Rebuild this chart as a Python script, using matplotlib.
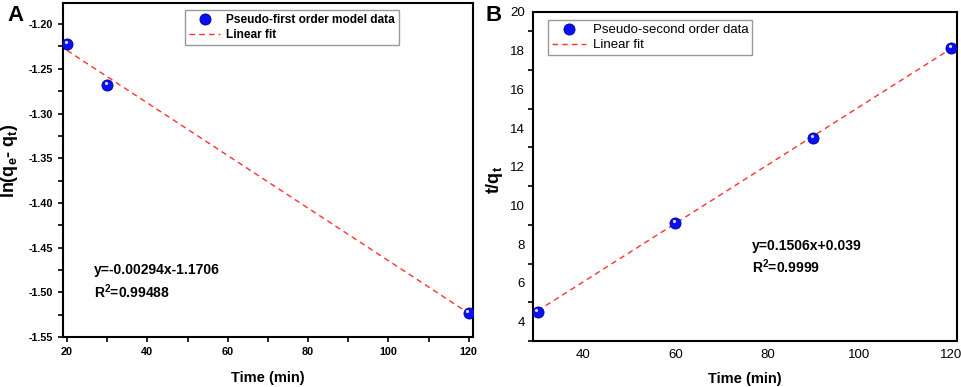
import numpy as np
import matplotlib
matplotlib.use("Agg")
import matplotlib.pyplot as plt
from matplotlib.ticker import MultipleLocator, FormatStrFormatter
import matplotlib.transforms as mtransforms

plt.rcParams['font.family'] = ['Liberation Sans', 'DejaVu Sans']
plt.rcParams['mathtext.fontset'] = 'custom'
plt.rcParams['mathtext.rm'] = 'Liberation Sans'
plt.rcParams['mathtext.it'] = 'Liberation Sans'
plt.rcParams['mathtext.bf'] = 'Liberation Sans:bold'

# Panel A: pseudo-first order
tA = [20, 30, 120]
lnA = [-1.222, -1.268, -1.523]
slopeA, interA = -0.00294, -1.1706

# Panel B: pseudo-second order
tB = [30, 60, 90, 120]
tqB = [4.50, 9.10, 13.50, 18.15]
slopeB, interB = 0.1506, 0.039

fig = plt.figure(figsize=(9.62, 3.87), dpi=100)
axA = fig.add_axes([0.0655, 0.129, 0.426, 0.863])
axB = fig.add_axes([0.554, 0.119, 0.441, 0.850])

def spheres(ax, x, y, label):
    ax.plot(x, y, 'o', ms=8, color='#0a10f0', mec='#0000a0', mew=0.6, label=label, zorder=3)
    off = mtransforms.offset_copy(ax.transData, fig=fig, x=-1.1, y=1.1, units='points')
    ax.plot(x, y, 'o', ms=2.3, color='white', mec='none', alpha=0.85, transform=off, zorder=4)

# ---- A ----
xa = np.array([tA[0], tA[-1]])
spheres(axA, tA, lnA, 'Pseudo-first order model data')
axA.plot(xa, slopeA * xa + interA, '--', color='#ff3030', lw=1.0, dashes=(4, 3), label='Linear fit', zorder=2)
axA.set_xlim(19, 121)
axA.set_ylim(-1.55, -1.1765)
axA.xaxis.set_major_locator(MultipleLocator(20))
axA.xaxis.set_minor_locator(MultipleLocator(10))
axA.yaxis.set_major_locator(MultipleLocator(0.05))
axA.yaxis.set_minor_locator(MultipleLocator(0.025))
axA.yaxis.set_major_formatter(FormatStrFormatter('%.2f'))
axA.tick_params(which='both', direction='out', length=3.5, width=1.2, labelsize=7.8)
for lab in axA.get_xticklabels() + axA.get_yticklabels():
    lab.set_fontweight('bold')
for s in axA.spines.values():
    s.set_linewidth(1.5)
axA.set_xlabel('Time (min)', fontsize=10.5, fontweight='bold', labelpad=10)
axA.set_ylabel(r'ln(q$_\mathbf{e}$- q$_\mathbf{t}$)', fontsize=13, fontweight='bold')
axA.yaxis.set_label_coords(-0.105, 0.527)
legA = axA.legend(loc='upper left', bbox_to_anchor=(0.298, 0.979), borderaxespad=0, frameon=True,
                  fancybox=False, edgecolor='#808080', prop={'weight': 'bold', 'size': 8.6},
                  handlelength=2.6, borderpad=0.35, labelspacing=0.25, handletextpad=0.5)
legA.get_frame().set_linewidth(1.0)
axA.text(0.075, 0.20, 'y=-0.00294x-1.1706', transform=axA.transAxes, fontsize=10, fontweight='bold', va='center')
axA.text(0.075, 0.135, r'R$^\mathbf{2}$=0.99488', transform=axA.transAxes, fontsize=10, fontweight='bold', va='center')
fig.text(0.008, 0.945, 'A', fontsize=16, fontweight='bold')

# ---- B ----
xb = np.array([tB[0], tB[-1]])
spheres(axB, tB, tqB, 'Pseudo-second order data')
axB.plot(xb, slopeB * xb + interB, '--', color='#ff3030', lw=1.0, dashes=(4, 3), label='Linear fit', zorder=2)
axB.set_xlim(29, 121.3)
axB.set_ylim(3, 20)
axB.xaxis.set_major_locator(MultipleLocator(20))
axB.yaxis.set_major_locator(MultipleLocator(2))
axB.yaxis.set_minor_locator(MultipleLocator(1))
axB.tick_params(which='major', length=0, labelsize=9.5, pad=6)
axB.tick_params(axis='y', which='minor', direction='out', length=3.5, width=1.2)
for s in axB.spines.values():
    s.set_linewidth(1.5)
axB.set_xlabel('Time (min)', fontsize=10.5, fontweight='bold', labelpad=8)
axB.set_ylabel(r'$\mathbf{t/q_t}$', fontsize=13)
axB.yaxis.set_label_coords(-0.066, 0.49)
legB = axB.legend(loc='upper left', bbox_to_anchor=(0.035, 0.975), borderaxespad=0, frameon=True,
                  fancybox=False, edgecolor='#808080', prop={'size': 9.5}, handlelength=2.6,
                  borderpad=0.3, labelspacing=0.2, handletextpad=0.5)
legB.get_frame().set_linewidth(1.0)
axB.text(0.516, 0.289, 'y=0.1506x+0.039', transform=axB.transAxes, fontsize=10, fontweight='bold', va='center')
axB.text(0.516, 0.225, r'R$^\mathbf{2}$=0.9999', transform=axB.transAxes, fontsize=10, fontweight='bold', va='center')
fig.text(0.505, 0.945, 'B', fontsize=16, fontweight='bold')

fig.savefig('out.png', dpi=100)
